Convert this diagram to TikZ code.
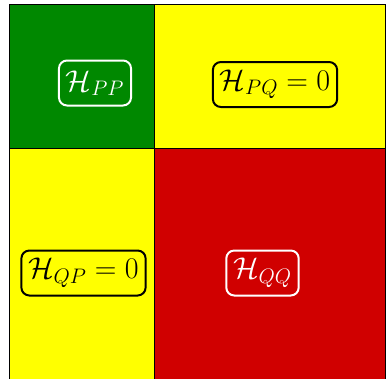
\documentclass[tikz,border=0pt]{standalone}
\RequirePackage{fix-cm}
\definecolor{cgreen}{RGB}{0,136,0}
\definecolor{cyellow}{RGB}{255,255,0}
\definecolor{cred}{RGB}{208,0,0}
\tikzset{
  cell/.style={draw=black, line width=0.8pt},
  hbox/.style={draw, line width=2pt, rounded corners=8pt, minimum height=45pt, inner xsep=7pt,
    font=\fontsize{30}{33}\selectfont},
  lightbox/.style={hbox, draw=white, text=white},
  darkbox/.style={hbox, draw=black, text=black}
}
\begin{document}
\begin{tikzpicture}[x=1pt,y=-1pt]
\useasboundingbox (0,0) rectangle (387,378);
\fill[white] (0,0) rectangle (387,378);
\filldraw[cell, fill=cgreen] (9.5,4.5) rectangle (154.5,148.5);
\filldraw[cell, fill=cyellow] (154.5,4.5) rectangle (385.5,148.5);
\filldraw[cell, fill=cyellow] (9.5,148.5) rectangle (154.5,390);
\filldraw[cell, fill=cred] (154.5,148.5) rectangle (385.5,390);
\node[lightbox] (pp) at (95,83) {$\mathcal{H}_{PP}$};
\node[darkbox] (pq) at (275,84.5) {$\mathcal{H}_{PQ}=0$};
\node[darkbox] (qp) at (83.5,273) {$\mathcal{H}_{QP}=0$};
\node[lightbox] (qq) at (262.5,273) {$\mathcal{H}_{QQ}$};
\end{tikzpicture}
\end{document}
